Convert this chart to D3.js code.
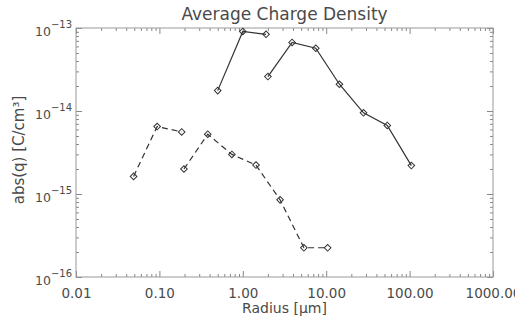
<!DOCTYPE html>
<html>
<head>
<meta charset="utf-8">
<script src="https://cdn.jsdelivr.net/npm/d3@7"></script>
<style>
  body { margin: 0; background: #fff; }
  svg { display: block; }
  text { font-family: "DejaVu Sans", sans-serif; fill: #4a4a4a; }
</style>
</head>
<body>
<div id="chart"></div>
<script>
// solid curves (two separate runs)
var solidRadius1 = [0.5, 1.0, 1.9];
var solidCharge1 = [1.76e-14, 9.1e-14, 8.4e-14];
var solidRadius2 = [2.0, 3.9, 7.5, 14.4, 28, 54, 105];
var solidCharge2 = [2.6e-14, 6.7e-14, 5.7e-14, 2.1e-14, 9.5e-15, 6.7e-15, 2.2e-15];

// dashed curves (two separate runs)
var dashRadius1 = [0.049, 0.094, 0.185];
var dashCharge1 = [1.63e-15, 6.5e-15, 5.6e-15];
var dashRadius2 = [0.197, 0.38, 0.74, 1.44, 2.8, 5.4, 10.4];
var dashCharge2 = [2.0e-15, 5.25e-15, 3.0e-15, 2.23e-15, 8.5e-16, 2.25e-16, 2.25e-16];

var xMajor = [0.01, 0.1, 1, 10, 100, 1000];
var yMajor = [1e-16, 1e-15, 1e-14, 1e-13];
var yExp = ['\u221216', '\u221215', '\u221214', '\u221213'];

(function() {
  var W = 515, H = 322;
  var pLeft = 76, pRight = 493, pTop = 28, pBottom = 277;

  var x = d3.scaleLog().domain([0.01, 1000]).range([pLeft, pRight]);
  var y = d3.scaleLog().domain([1e-16, 1e-13]).range([pBottom, pTop]);

  // minor ticks 2..9 in each decade
  function minors(lo, hi) {
    var out = [];
    for (var p = lo; p < hi * 0.99; p *= 10) {
      for (var k = 2; k <= 9; k++) out.push(p * k);
    }
    return out;
  }
  var xMinor = minors(0.01, 1000);
  var yMinor = minors(1e-16, 1e-13);

  var svg = d3.select('#chart').append('svg')
    .attr('width', W)
    .attr('height', H);

  function styleAxis(g) {
    g.selectAll('.domain').remove();
    g.selectAll('.tick line').attr('stroke', '#888');
  }

  // bottom
  svg.append('g').attr('transform', 'translate(0,' + pBottom + ')')
    .call(d3.axisBottom(x).tickValues(xMinor).tickFormat('').tickSize(-3))
    .call(styleAxis);
  var xa = svg.append('g').attr('transform', 'translate(0,' + pBottom + ')')
    .call(d3.axisBottom(x).tickValues(xMajor).tickFormat(d3.format('.2f')).tickSizeInner(-6).tickSizeOuter(0).tickPadding(11))
    .call(styleAxis);
  xa.selectAll('text').style('font-size', '13.5px').attr('fill', '#4a4a4a');

  // top
  svg.append('g').attr('transform', 'translate(0,' + pTop + ')')
    .call(d3.axisTop(x).tickValues(xMinor).tickFormat('').tickSize(-3))
    .call(styleAxis);
  svg.append('g').attr('transform', 'translate(0,' + pTop + ')')
    .call(d3.axisTop(x).tickValues(xMajor).tickFormat('').tickSize(-6))
    .call(styleAxis);

  // left
  svg.append('g').attr('transform', 'translate(' + pLeft + ',0)')
    .call(d3.axisLeft(y).tickValues(yMinor).tickFormat('').tickSize(-3))
    .call(styleAxis);
  var ya = svg.append('g').attr('transform', 'translate(' + pLeft + ',0)')
    .call(d3.axisLeft(y).tickValues(yMajor).tickFormat('').tickSizeInner(-6).tickSizeOuter(0).tickPadding(4))
    .call(styleAxis);
  ya.selectAll('.tick text').each(function(d, i) {
    var t = d3.select(this).attr('dy', null).attr('y', 7).attr('fill', '#4a4a4a')
      .style('font-family', '"DejaVu Sans", sans-serif');
    t.append('tspan').style('font-size', '12.5px').text('10');
    t.append('tspan').style('font-size', '10px').attr('dy', -8).text(yExp[i]);
  });

  // right
  svg.append('g').attr('transform', 'translate(' + pRight + ',0)')
    .call(d3.axisRight(y).tickValues(yMinor).tickFormat('').tickSize(-3))
    .call(styleAxis);
  svg.append('g').attr('transform', 'translate(' + pRight + ',0)')
    .call(d3.axisRight(y).tickValues(yMajor).tickFormat('').tickSize(-6))
    .call(styleAxis);

  // frame
  svg.append('rect')
    .attr('x', pLeft).attr('y', pTop)
    .attr('width', pRight - pLeft).attr('height', pBottom - pTop)
    .attr('fill', 'none').attr('stroke', '#999').attr('stroke-width', 1);

  // curves
  var line = d3.line()
    .x(function(d) { return x(d[0]); })
    .y(function(d) { return y(d[1]); });

  var diamond = d3.symbol().type(d3.symbolSquare).size(22);

  function drawSeries(rs, qs, dash) {
    var pts = d3.zip(rs, qs);
    svg.append('path')
      .datum(pts)
      .attr('d', line)
      .attr('fill', 'none')
      .attr('stroke', '#333')
      .attr('stroke-width', 1.2)
      .attr('stroke-dasharray', dash);
    svg.append('g').selectAll('path')
      .data(pts)
      .enter()
      .append('path')
      .attr('d', diamond)
      .attr('transform', function(d) { return 'translate(' + x(d[0]) + ',' + y(d[1]) + ') rotate(45)'; })
      .attr('fill', 'none')
      .attr('stroke', '#333')
      .attr('stroke-width', 1);
  }

  drawSeries(solidRadius1, solidCharge1, null);
  drawSeries(solidRadius2, solidCharge2, null);
  drawSeries(dashRadius1, dashCharge1, '6,4');
  drawSeries(dashRadius2, dashCharge2, '6,4');

  // titles
  svg.append('text')
    .attr('x', (pLeft + pRight) / 2).attr('y', 20)
    .attr('text-anchor', 'middle')
    .style('font-size', '17px')
    .text('Average Charge Density');

  svg.append('text')
    .attr('x', (pLeft + pRight) / 2).attr('y', 313)
    .attr('text-anchor', 'middle')
    .style('font-size', '14px')
    .text('Radius [\u03bcm]');

  svg.append('text')
    .attr('transform', 'translate(24,150) rotate(-90)')
    .attr('text-anchor', 'middle')
    .style('font-size', '15px')
    .text('abs(q) [C/cm\u00b3]');
})();
</script>
</body>
</html>
